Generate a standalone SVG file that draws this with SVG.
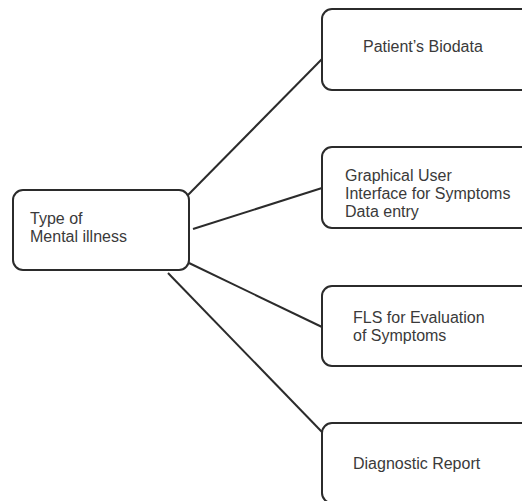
<svg xmlns="http://www.w3.org/2000/svg" width="522" height="501" viewBox="0 0 522 501">
  <style>
    .box { fill: #ffffff; stroke: #2b2b2b; stroke-width: 2; }
    .link { stroke: #2b2b2b; stroke-width: 2; fill: none; }
    .label { font-family: "Liberation Sans", Arial, sans-serif; font-size: 16px; fill: #3a3a3a; }
  </style>
  <rect width="522" height="501" fill="#ffffff"/>

  <g id="connectors">
    <line class="link" x1="188" y1="195" x2="322" y2="59"/>
    <line class="link" x1="193" y1="229" x2="322" y2="188"/>
    <line class="link" x1="189" y1="263" x2="322" y2="327"/>
    <line class="link" x1="168" y1="273" x2="322" y2="432"/>
  </g>

  <g id="mental-illness">
    <rect class="box" x="13" y="190" width="176" height="80" rx="10"/>
    <text class="label" x="30" y="224">Type of</text>
    <text class="label" x="30" y="242">Mental illness</text>
  </g>

  <g id="biodata">
    <rect class="box" x="322" y="9" width="220" height="81" rx="10"/>
    <text class="label" x="363" y="52">Patient’s Biodata</text>
  </g>

  <g id="gui">
    <rect class="box" x="322" y="147" width="220" height="81" rx="10"/>
    <text class="label" x="345" y="181">Graphical User</text>
    <text class="label" x="345" y="199">Interface for Symptoms</text>
    <text class="label" x="345" y="217">Data entry</text>
  </g>

  <g id="fls">
    <rect class="box" x="322" y="286" width="220" height="80" rx="10"/>
    <text class="label" x="353" y="323">FLS for Evaluation</text>
    <text class="label" x="353" y="341">of Symptoms</text>
  </g>

  <g id="report">
    <rect class="box" x="322" y="423" width="220" height="80" rx="10"/>
    <text class="label" x="353" y="469">Diagnostic Report</text>
  </g>
</svg>
